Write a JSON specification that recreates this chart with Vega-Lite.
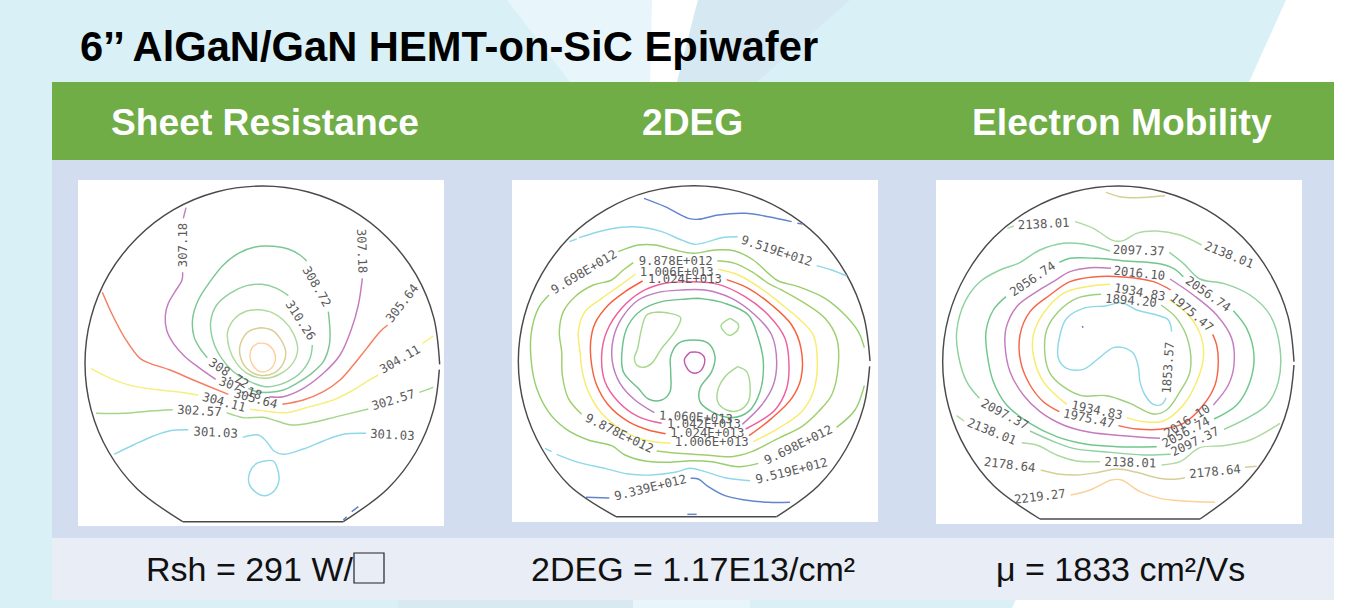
{"$schema":"https://vega.github.io/schema/vega-lite/v6.json","width":1360,"height":608,"padding":0,"autosize":{"type":"fit","contains":"padding"},"background":"#d9f0f7","config":{"view":{"stroke":null}},
"resolve":{"scale":{"x":"independent","y":"independent","color":"independent"}},
"datasets":{
"shapes":[{"k":"light","y":0,"x":507,"x2":652},{"k":"light","y":82,"x":570,"x2":650},{"k":"white","y":0,"x":652,"x2":698},{"k":"white","y":82,"x":650,"x2":677},{"k":"dark","y":0,"x":698,"x2":850},{"k":"dark","y":82,"x":677,"x2":757},{"k":"corner","y":0,"x":1286,"x2":1360},{"k":"corner","y":608,"x":1012,"x2":1360},{"k":"dark2","y":600,"x":398,"x2":633},{"k":"dark2","y":608,"x":398,"x2":633},{"k":"light2","y":600,"x":633,"x2":750},{"k":"light2","y":608,"x":633,"x2":750}],
"blocks":[{"k":"header","x":52,"x2":1334,"y":82,"y2":160},{"k":"body","x":52,"x2":1334,"y":160,"y2":538},{"k":"foot","x":52,"x2":1334,"y":538,"y2":600},{"k":"plot","x":78,"x2":444,"y":180,"y2":526},{"k":"plot","x":512,"x2":878,"y":180,"y2":522},{"k":"plot","x":936,"x2":1302,"y":180,"y2":524}],
"lines1":[
{"s":"w1","l":"wafer","x":1108,"y":584},{"s":"w1","l":"wafer","x":1091,"y":703},{"s":"w1","l":"wafer","x":1038,"y":831},{"s":"w1","l":"wafer","x":953,"y":941},{"s":"w1","l":"wafer","x":820,"y":1040},
{"s":"w2","l":"wafer","x":820,"y":1040},{"s":"w2","l":"wafer","x":338,"y":1040},
{"s":"w3","l":"wafer","x":338,"y":1040},{"s":"w3","l":"wafer","x":201,"y":941},{"s":"w3","l":"wafer","x":116,"y":831},{"s":"w3","l":"wafer","x":63,"y":703},{"s":"w3","l":"wafer","x":45,"y":565},{"s":"w3","l":"wafer","x":63,"y":427},{"s":"w3","l":"wafer","x":116,"y":299},{"s":"w3","l":"wafer","x":201,"y":189},{"s":"w3","l":"wafer","x":311,"y":104},{"s":"w3","l":"wafer","x":439,"y":51},{"s":"w3","l":"wafer","x":577,"y":33},{"s":"w3","l":"wafer","x":715,"y":51},{"s":"w3","l":"wafer","x":843,"y":104},{"s":"w3","l":"wafer","x":953,"y":189},{"s":"w3","l":"wafer","x":1038,"y":299},{"s":"w3","l":"wafer","x":1091,"y":427},{"s":"w3","l":"wafer","x":1109,"y":568},
{"s":"a1","l":"307.18","x":348,"y":98},{"s":"a1","l":"307.18","x":340,"y":130},
{"s":"a2","l":"307.18","x":338,"y":292},{"s":"a2","l":"307.18","x":336,"y":315},{"s":"a2","l":"307.18","x":315,"y":350},{"s":"a2","l":"307.18","x":295,"y":385},{"s":"a2","l":"307.18","x":286,"y":420},{"s":"a2","l":"307.18","x":290,"y":465},{"s":"a2","l":"307.18","x":310,"y":505},{"s":"a2","l":"307.18","x":345,"y":545},{"s":"a2","l":"307.18","x":390,"y":580},{"s":"a2","l":"307.18","x":437,"y":613},
{"s":"a3","l":"307.18","x":598,"y":665},{"s":"a3","l":"307.18","x":640,"y":665},{"s":"a3","l":"307.18","x":700,"y":640},{"s":"a3","l":"307.18","x":760,"y":595},{"s":"a3","l":"307.18","x":810,"y":540},{"s":"a3","l":"307.18","x":845,"y":460},{"s":"a3","l":"307.18","x":865,"y":390},{"s":"a3","l":"307.18","x":877,"y":310},
{"s":"b1","l":"308.72","x":710,"y":258},{"s":"b1","l":"308.72","x":690,"y":240},{"s":"b1","l":"308.72","x":655,"y":222},{"s":"b1","l":"308.72","x":610,"y":214},{"s":"b1","l":"308.72","x":555,"y":216},{"s":"b1","l":"308.72","x":505,"y":235},{"s":"b1","l":"308.72","x":460,"y":270},{"s":"b1","l":"308.72","x":420,"y":320},{"s":"b1","l":"308.72","x":385,"y":375},{"s":"b1","l":"308.72","x":368,"y":430},{"s":"b1","l":"308.72","x":372,"y":485},{"s":"b1","l":"308.72","x":390,"y":520},{"s":"b1","l":"308.72","x":412,"y":548},
{"s":"b2","l":"308.72","x":775,"y":410},{"s":"b2","l":"308.72","x":780,"y":470},{"s":"b2","l":"308.72","x":778,"y":510},{"s":"b2","l":"308.72","x":760,"y":560},{"s":"b2","l":"308.72","x":725,"y":595},{"s":"b2","l":"308.72","x":680,"y":625},{"s":"b2","l":"308.72","x":640,"y":645},{"s":"b2","l":"308.72","x":600,"y":652},{"s":"b2","l":"308.72","x":560,"y":650},{"s":"b2","l":"308.72","x":535,"y":640},
{"s":"c1","l":"310.26","x":655,"y":362},{"s":"c1","l":"310.26","x":620,"y":340},{"s":"c1","l":"310.26","x":575,"y":328},{"s":"c1","l":"310.26","x":530,"y":332},{"s":"c1","l":"310.26","x":480,"y":355},{"s":"c1","l":"310.26","x":440,"y":390},{"s":"c1","l":"310.26","x":422,"y":440},{"s":"c1","l":"310.26","x":430,"y":500},{"s":"c1","l":"310.26","x":455,"y":550},{"s":"c1","l":"310.26","x":490,"y":590},{"s":"c1","l":"310.26","x":530,"y":615},{"s":"c1","l":"310.26","x":585,"y":635},{"s":"c1","l":"310.26","x":640,"y":625},{"s":"c1","l":"310.26","x":690,"y":595},{"s":"c1","l":"310.26","x":720,"y":550},{"s":"c1","l":"310.26","x":727,"y":510},
{"s":"d1","l":"311.80","x":570,"y":404},{"s":"d1","l":"311.80","x":530,"y":408},{"s":"d1","l":"311.80","x":495,"y":430},{"s":"d1","l":"311.80","x":473,"y":470},{"s":"d1","l":"311.80","x":478,"y":520},{"s":"d1","l":"311.80","x":500,"y":565},{"s":"d1","l":"311.80","x":535,"y":597},{"s":"d1","l":"311.80","x":585,"y":610},{"s":"d1","l":"311.80","x":630,"y":597},{"s":"d1","l":"311.80","x":668,"y":565},{"s":"d1","l":"311.80","x":683,"y":525},{"s":"d1","l":"311.80","x":670,"y":475},{"s":"d1","l":"311.80","x":640,"y":435},{"s":"d1","l":"311.80","x":605,"y":412},{"s":"d1","l":"311.80","x":570,"y":404},
{"s":"e1","l":"313.33","x":570,"y":458},{"s":"e1","l":"313.33","x":535,"y":470},{"s":"e1","l":"313.33","x":512,"y":505},{"s":"e1","l":"313.33","x":510,"y":540},{"s":"e1","l":"313.33","x":530,"y":580},{"s":"e1","l":"313.33","x":565,"y":600},{"s":"e1","l":"313.33","x":610,"y":595},{"s":"e1","l":"313.33","x":640,"y":565},{"s":"e1","l":"313.33","x":647,"y":530},{"s":"e1","l":"313.33","x":630,"y":490},{"s":"e1","l":"313.33","x":605,"y":465},{"s":"e1","l":"313.33","x":570,"y":458},
{"s":"f1","l":"314.87","x":563,"y":505},{"s":"f1","l":"314.87","x":590,"y":507},{"s":"f1","l":"314.87","x":612,"y":530},{"s":"f1","l":"314.87","x":615,"y":560},{"s":"f1","l":"314.87","x":597,"y":585},{"s":"f1","l":"314.87","x":570,"y":590},{"s":"f1","l":"314.87","x":548,"y":570},{"s":"f1","l":"314.87","x":540,"y":545},{"s":"f1","l":"314.87","x":545,"y":520},{"s":"f1","l":"314.87","x":563,"y":505},
{"s":"g1","l":"305.64","x":97,"y":352},{"s":"g1","l":"305.64","x":125,"y":415},{"s":"g1","l":"305.64","x":165,"y":490},{"s":"g1","l":"305.64","x":210,"y":550},{"s":"g1","l":"305.64","x":240,"y":565},{"s":"g1","l":"305.64","x":300,"y":585},{"s":"g1","l":"305.64","x":370,"y":615},{"s":"g1","l":"305.64","x":475,"y":658},
{"s":"g2","l":"305.64","x":637,"y":688},{"s":"g2","l":"305.64","x":700,"y":675},{"s":"g2","l":"305.64","x":760,"y":650},{"s":"g2","l":"305.64","x":810,"y":615},{"s":"g2","l":"305.64","x":850,"y":570},{"s":"g2","l":"305.64","x":890,"y":520},{"s":"g2","l":"305.64","x":930,"y":470},{"s":"g2","l":"305.64","x":953,"y":450},
{"s":"h1","l":"304.11","x":63,"y":580},{"s":"h1","l":"304.11","x":110,"y":605},{"s":"h1","l":"304.11","x":170,"y":628},{"s":"h1","l":"304.11","x":250,"y":643},{"s":"h1","l":"304.11","x":320,"y":650},{"s":"h1","l":"304.11","x":385,"y":660},
{"s":"h2","l":"304.11","x":540,"y":703},{"s":"h2","l":"304.11","x":600,"y":710},{"s":"h2","l":"304.11","x":650,"y":713},{"s":"h2","l":"304.11","x":720,"y":695},{"s":"h2","l":"304.11","x":790,"y":675},{"s":"h2","l":"304.11","x":850,"y":645},{"s":"h2","l":"304.11","x":890,"y":620},{"s":"h2","l":"304.11","x":925,"y":600},
{"s":"h3","l":"304.11","x":1057,"y":505},{"s":"h3","l":"304.11","x":1090,"y":483},
{"s":"i1","l":"302.57","x":78,"y":715},{"s":"i1","l":"302.57","x":160,"y":715},{"s":"i1","l":"302.57","x":240,"y":708},{"s":"i1","l":"302.57","x":308,"y":704},
{"s":"i2","l":"302.57","x":470,"y":713},{"s":"i2","l":"302.57","x":520,"y":728},{"s":"i2","l":"302.57","x":580,"y":727},{"s":"i2","l":"302.57","x":620,"y":738},{"s":"i2","l":"302.57","x":665,"y":750},{"s":"i2","l":"302.57","x":730,"y":742},{"s":"i2","l":"302.57","x":800,"y":725},{"s":"i2","l":"302.57","x":895,"y":702},
{"s":"i3","l":"302.57","x":1048,"y":652},{"s":"i3","l":"302.57","x":1090,"y":637},
{"s":"j1","l":"301.03","x":132,"y":838},{"s":"j1","l":"301.03","x":190,"y":810},{"s":"j1","l":"301.03","x":250,"y":783},{"s":"j1","l":"301.03","x":300,"y":767},{"s":"j1","l":"301.03","x":355,"y":764},
{"s":"j2","l":"301.03","x":518,"y":787},{"s":"j2","l":"301.03","x":565,"y":780},{"s":"j2","l":"301.03","x":590,"y":800},{"s":"j2","l":"301.03","x":612,"y":828},{"s":"j2","l":"301.03","x":640,"y":838},{"s":"j2","l":"301.03","x":700,"y":822},{"s":"j2","l":"301.03","x":760,"y":798},{"s":"j2","l":"301.03","x":820,"y":778},{"s":"j2","l":"301.03","x":888,"y":775},
{"s":"j3","l":"301.03","x":590,"y":857},{"s":"j3","l":"301.03","x":560,"y":865},{"s":"j3","l":"301.03","x":540,"y":890},{"s":"j3","l":"301.03","x":537,"y":925},{"s":"j3","l":"301.03","x":555,"y":950},{"s":"j3","l":"301.03","x":585,"y":962},{"s":"j3","l":"301.03","x":615,"y":945},{"s":"j3","l":"301.03","x":627,"y":915},{"s":"j3","l":"301.03","x":622,"y":880},{"s":"j3","l":"301.03","x":610,"y":858},{"s":"j3","l":"301.03","x":590,"y":857},
{"s":"k1","l":"299.49","x":845,"y":1010},{"s":"k1","l":"299.49","x":865,"y":995},
{"s":"k2","l":"299.49","x":820,"y":1035},{"s":"k2","l":"299.49","x":830,"y":1025}
],
"labels1":[
{"t":"307.18","x":338,"y":210,"a":-90},{"t":"307.18","x":875,"y":228,"a":88},{"t":"307.18","x":511,"y":640,"a":20},
{"t":"308.72","x":740,"y":335,"a":60},{"t":"308.72","x":476,"y":595,"a":33},{"t":"310.26","x":691,"y":436,"a":57},
{"t":"305.64","x":997,"y":385,"a":-52},{"t":"305.64","x":557,"y":672,"a":15},{"t":"304.11","x":462,"y":682,"a":15},{"t":"304.11","x":990,"y":553,"a":-30},
{"t":"302.57","x":388,"y":708,"a":3},{"t":"302.57","x":970,"y":675,"a":-17},{"t":"301.03","x":437,"y":773,"a":3},{"t":"301.03","x":967,"y":780,"a":3}
],
"lines2":[
{"s":"w1","l":"wafer","x":1094,"y":574},{"s":"w1","l":"wafer","x":1076,"y":695},{"s":"w1","l":"wafer","x":1023,"y":822},{"s":"w1","l":"wafer","x":940,"y":932},{"s":"w1","l":"wafer","x":815,"y":1025},
{"s":"w2","l":"wafer","x":815,"y":1025},{"s":"w2","l":"wafer","x":333,"y":1025},
{"s":"w3","l":"wafer","x":333,"y":1025},{"s":"w3","l":"wafer","x":194,"y":932},{"s":"w3","l":"wafer","x":111,"y":822},{"s":"w3","l":"wafer","x":58,"y":695},{"s":"w3","l":"wafer","x":40,"y":559},{"s":"w3","l":"wafer","x":58,"y":423},{"s":"w3","l":"wafer","x":111,"y":296},{"s":"w3","l":"wafer","x":194,"y":186},{"s":"w3","l":"wafer","x":304,"y":103},{"s":"w3","l":"wafer","x":431,"y":50},{"s":"w3","l":"wafer","x":567,"y":32},{"s":"w3","l":"wafer","x":703,"y":50},{"s":"w3","l":"wafer","x":830,"y":103},{"s":"w3","l":"wafer","x":940,"y":186},{"s":"w3","l":"wafer","x":1023,"y":296},{"s":"w3","l":"wafer","x":1076,"y":423},{"s":"w3","l":"wafer","x":1095,"y":558},
{"s":"a1","l":"9.339","x":417,"y":70},{"s":"a1","l":"9.339","x":480,"y":95},{"s":"a1","l":"9.339","x":550,"y":130},{"s":"a1","l":"9.339","x":580,"y":133},{"s":"a1","l":"9.339","x":640,"y":120},{"s":"a1","l":"9.339","x":720,"y":115},{"s":"a1","l":"9.339","x":790,"y":125},{"s":"a1","l":"9.339","x":860,"y":140},
{"s":"a2","l":"9.339","x":877,"y":145},{"s":"a2","l":"9.339","x":893,"y":147},
{"s":"a3","l":"9.339","x":243,"y":967},{"s":"a3","l":"9.339","x":313,"y":969},
{"s":"a4","l":"9.339","x":557,"y":910},{"s":"a4","l":"9.339","x":580,"y":912},{"s":"a4","l":"9.339","x":610,"y":935},{"s":"a4","l":"9.339","x":660,"y":962},{"s":"a4","l":"9.339","x":720,"y":975},{"s":"a4","l":"9.339","x":790,"y":982},{"s":"a4","l":"9.339","x":855,"y":982},
{"s":"a5","l":"9.339","x":547,"y":1018},{"s":"a5","l":"9.339","x":575,"y":1018},
{"s":"b1","l":"9.519","x":193,"y":200},{"s":"b1","l":"9.519","x":215,"y":192},
{"s":"b2","l":"9.519","x":222,"y":188},{"s":"b2","l":"9.519","x":290,"y":168},{"s":"b2","l":"9.519","x":350,"y":157},{"s":"b2","l":"9.519","x":410,"y":157},{"s":"b2","l":"9.519","x":470,"y":170},{"s":"b2","l":"9.519","x":530,"y":195},{"s":"b2","l":"9.519","x":570,"y":208},{"s":"b2","l":"9.519","x":610,"y":200},{"s":"b2","l":"9.519","x":650,"y":188},{"s":"b2","l":"9.519","x":698,"y":185},
{"s":"b3","l":"9.519","x":935,"y":272},{"s":"b3","l":"9.519","x":980,"y":285},{"s":"b3","l":"9.519","x":1025,"y":303},
{"s":"b4","l":"9.519","x":120,"y":820},{"s":"b4","l":"9.519","x":140,"y":830},
{"s":"b5","l":"9.519","x":155,"y":838},{"s":"b5","l":"9.519","x":220,"y":862},{"s":"b5","l":"9.519","x":300,"y":880},{"s":"b5","l":"9.519","x":370,"y":897},{"s":"b5","l":"9.519","x":440,"y":900},{"s":"b5","l":"9.519","x":510,"y":892},{"s":"b5","l":"9.519","x":555,"y":880},{"s":"b5","l":"9.519","x":600,"y":890},{"s":"b5","l":"9.519","x":660,"y":908},{"s":"b5","l":"9.519","x":735,"y":917},
{"s":"c1","l":"9.698","x":132,"y":360},{"s":"c1","l":"9.698","x":100,"y":400},{"s":"c1","l":"9.698","x":78,"y":480},{"s":"c1","l":"9.698","x":80,"y":570},{"s":"c1","l":"9.698","x":95,"y":640},{"s":"c1","l":"9.698","x":130,"y":710},{"s":"c1","l":"9.698","x":180,"y":760},{"s":"c1","l":"9.698","x":250,"y":795},{"s":"c1","l":"9.698","x":320,"y":812},{"s":"c1","l":"9.698","x":360,"y":840},{"s":"c1","l":"9.698","x":420,"y":858},{"s":"c1","l":"9.698","x":490,"y":862},{"s":"c1","l":"9.698","x":560,"y":857},{"s":"c1","l":"9.698","x":620,"y":860},{"s":"c1","l":"9.698","x":700,"y":875},{"s":"c1","l":"9.698","x":760,"y":865},
{"s":"c2","l":"9.698","x":995,"y":757},{"s":"c2","l":"9.698","x":1050,"y":705},{"s":"c2","l":"9.698","x":1078,"y":632},
{"s":"c3","l":"9.698","x":340,"y":230},{"s":"c3","l":"9.698","x":400,"y":210},{"s":"c3","l":"9.698","x":450,"y":210},{"s":"c3","l":"9.698","x":510,"y":225},{"s":"c3","l":"9.698","x":565,"y":235},{"s":"c3","l":"9.698","x":630,"y":225},{"s":"c3","l":"9.698","x":690,"y":228},{"s":"c3","l":"9.698","x":745,"y":255},{"s":"c3","l":"9.698","x":790,"y":295},{"s":"c3","l":"9.698","x":820,"y":318},{"s":"c3","l":"9.698","x":880,"y":335},{"s":"c3","l":"9.698","x":960,"y":370},{"s":"c3","l":"9.698","x":1020,"y":420},{"s":"c3","l":"9.698","x":1060,"y":470},{"s":"c3","l":"9.698","x":1078,"y":518},
{"s":"d1","l":"9.878","x":385,"y":263},{"s":"d1","l":"9.878","x":355,"y":285},{"s":"d1","l":"9.878","x":320,"y":315},{"s":"d1","l":"9.878","x":265,"y":330},{"s":"d1","l":"9.878","x":210,"y":365},{"s":"d1","l":"9.878","x":175,"y":410},{"s":"d1","l":"9.878","x":163,"y":470},{"s":"d1","l":"9.878","x":170,"y":530},{"s":"d1","l":"9.878","x":172,"y":600},{"s":"d1","l":"9.878","x":190,"y":670},{"s":"d1","l":"9.878","x":230,"y":718},
{"s":"d2","l":"9.878","x":637,"y":257},{"s":"d2","l":"9.878","x":690,"y":265},{"s":"d2","l":"9.878","x":740,"y":290},{"s":"d2","l":"9.878","x":790,"y":325},{"s":"d2","l":"9.878","x":830,"y":345},{"s":"d2","l":"9.878","x":900,"y":385},{"s":"d2","l":"9.878","x":960,"y":430},{"s":"d2","l":"9.878","x":995,"y":490},{"s":"d2","l":"9.878","x":1000,"y":570},{"s":"d2","l":"9.878","x":980,"y":660},{"s":"d2","l":"9.878","x":940,"y":710},{"s":"d2","l":"9.878","x":890,"y":755},{"s":"d2","l":"9.878","x":820,"y":790},{"s":"d2","l":"9.878","x":740,"y":830},{"s":"d2","l":"9.878","x":680,"y":845},{"s":"d2","l":"9.878","x":600,"y":840},{"s":"d2","l":"9.878","x":520,"y":835},{"s":"d2","l":"9.878","x":455,"y":828},
{"s":"e1","l":"1.006","x":392,"y":297},{"s":"e1","l":"1.006","x":340,"y":335},{"s":"e1","l":"1.006","x":290,"y":370},{"s":"e1","l":"1.006","x":240,"y":410},{"s":"e1","l":"1.006","x":220,"y":470},{"s":"e1","l":"1.006","x":225,"y":530},{"s":"e1","l":"1.006","x":232,"y":590},{"s":"e1","l":"1.006","x":250,"y":650},{"s":"e1","l":"1.006","x":290,"y":715},{"s":"e1","l":"1.006","x":350,"y":765},{"s":"e1","l":"1.006","x":420,"y":795},{"s":"e1","l":"1.006","x":497,"y":805},
{"s":"e2","l":"1.006","x":640,"y":283},{"s":"e2","l":"1.006","x":700,"y":300},{"s":"e2","l":"1.006","x":760,"y":335},{"s":"e2","l":"1.006","x":820,"y":380},{"s":"e2","l":"1.006","x":880,"y":430},{"s":"e2","l":"1.006","x":925,"y":480},{"s":"e2","l":"1.006","x":937,"y":570},{"s":"e2","l":"1.006","x":925,"y":650},{"s":"e2","l":"1.006","x":890,"y":710},{"s":"e2","l":"1.006","x":820,"y":760},{"s":"e2","l":"1.006","x":745,"y":800},
{"s":"f1","l":"1.024","x":413,"y":318},{"s":"f1","l":"1.024","x":360,"y":350},{"s":"f1","l":"1.024","x":310,"y":390},{"s":"f1","l":"1.024","x":270,"y":445},{"s":"f1","l":"1.024","x":257,"y":500},{"s":"f1","l":"1.024","x":260,"y":570},{"s":"f1","l":"1.024","x":275,"y":630},{"s":"f1","l":"1.024","x":310,"y":690},{"s":"f1","l":"1.024","x":370,"y":740},{"s":"f1","l":"1.024","x":430,"y":765},{"s":"f1","l":"1.024","x":482,"y":776},
{"s":"f2","l":"1.024","x":665,"y":314},{"s":"f2","l":"1.024","x":730,"y":340},{"s":"f2","l":"1.024","x":800,"y":390},{"s":"f2","l":"1.024","x":860,"y":450},{"s":"f2","l":"1.024","x":888,"y":520},{"s":"f2","l":"1.024","x":888,"y":610},{"s":"f2","l":"1.024","x":860,"y":670},{"s":"f2","l":"1.024","x":800,"y":730},{"s":"f2","l":"1.024","x":732,"y":782},
{"s":"g1","l":"1.042","x":470,"y":745},{"s":"g1","l":"1.042","x":400,"y":725},{"s":"g1","l":"1.042","x":340,"y":680},{"s":"g1","l":"1.042","x":300,"y":620},{"s":"g1","l":"1.042","x":290,"y":540},{"s":"g1","l":"1.042","x":305,"y":470},{"s":"g1","l":"1.042","x":350,"y":400},{"s":"g1","l":"1.042","x":410,"y":350},{"s":"g1","l":"1.042","x":480,"y":325},{"s":"g1","l":"1.042","x":560,"y":320},{"s":"g1","l":"1.042","x":640,"y":328},{"s":"g1","l":"1.042","x":720,"y":365},{"s":"g1","l":"1.042","x":790,"y":420},{"s":"g1","l":"1.042","x":840,"y":490},{"s":"g1","l":"1.042","x":852,"y":570},{"s":"g1","l":"1.042","x":845,"y":640},{"s":"g1","l":"1.042","x":810,"y":705},{"s":"g1","l":"1.042","x":722,"y":762},
{"s":"h1","l":"1.060","x":448,"y":713},{"s":"h1","l":"1.060","x":390,"y":675},{"s":"h1","l":"1.060","x":345,"y":625},{"s":"h1","l":"1.060","x":322,"y":560},{"s":"h1","l":"1.060","x":325,"y":490},{"s":"h1","l":"1.060","x":350,"y":430},{"s":"h1","l":"1.060","x":400,"y":375},{"s":"h1","l":"1.060","x":460,"y":352},{"s":"h1","l":"1.060","x":530,"y":345},{"s":"h1","l":"1.060","x":600,"y":345},{"s":"h1","l":"1.060","x":680,"y":370},{"s":"h1","l":"1.060","x":750,"y":420},{"s":"h1","l":"1.060","x":800,"y":480},{"s":"h1","l":"1.060","x":815,"y":560},{"s":"h1","l":"1.060","x":805,"y":630},{"s":"h1","l":"1.060","x":770,"y":690},{"s":"h1","l":"1.060","x":712,"y":748},
{"s":"i1","l":"1.078","x":580,"y":370},{"s":"i1","l":"1.078","x":545,"y":372},{"s":"i1","l":"1.078","x":470,"y":380},{"s":"i1","l":"1.078","x":410,"y":405},{"s":"i1","l":"1.078","x":370,"y":450},{"s":"i1","l":"1.078","x":353,"y":510},{"s":"i1","l":"1.078","x":355,"y":590},{"s":"i1","l":"1.078","x":400,"y":640},{"s":"i1","l":"1.078","x":430,"y":672},{"s":"i1","l":"1.078","x":470,"y":675},{"s":"i1","l":"1.078","x":495,"y":650},{"s":"i1","l":"1.078","x":497,"y":590},{"s":"i1","l":"1.078","x":497,"y":545},{"s":"i1","l":"1.078","x":520,"y":505},{"s":"i1","l":"1.078","x":565,"y":495},{"s":"i1","l":"1.078","x":610,"y":505},{"s":"i1","l":"1.078","x":630,"y":545},{"s":"i1","l":"1.078","x":620,"y":590},{"s":"i1","l":"1.078","x":585,"y":640},{"s":"i1","l":"1.078","x":585,"y":680},{"s":"i1","l":"1.078","x":620,"y":710},{"s":"i1","l":"1.078","x":680,"y":728},{"s":"i1","l":"1.078","x":730,"y":710},{"s":"i1","l":"1.078","x":765,"y":650},{"s":"i1","l":"1.078","x":775,"y":560},{"s":"i1","l":"1.078","x":760,"y":490},{"s":"i1","l":"1.078","x":730,"y":420},{"s":"i1","l":"1.078","x":660,"y":385},{"s":"i1","l":"1.078","x":580,"y":370},
{"s":"j1","l":"1.096","x":460,"y":411},{"s":"j1","l":"1.096","x":425,"y":420},{"s":"j1","l":"1.096","x":410,"y":460},{"s":"j1","l":"1.096","x":398,"y":520},{"s":"j1","l":"1.096","x":388,"y":550},{"s":"j1","l":"1.096","x":395,"y":570},{"s":"j1","l":"1.096","x":415,"y":577},{"s":"j1","l":"1.096","x":440,"y":565},{"s":"j1","l":"1.096","x":470,"y":520},{"s":"j1","l":"1.096","x":510,"y":470},{"s":"j1","l":"1.096","x":527,"y":428},{"s":"j1","l":"1.096","x":495,"y":415},{"s":"j1","l":"1.096","x":460,"y":411},
{"s":"j2","l":"1.096","x":675,"y":430},{"s":"j2","l":"1.096","x":648,"y":452},{"s":"j2","l":"1.096","x":672,"y":481},{"s":"j2","l":"1.096","x":698,"y":465},{"s":"j2","l":"1.096","x":700,"y":448},{"s":"j2","l":"1.096","x":675,"y":430},
{"s":"j3","l":"1.096","x":698,"y":575},{"s":"j3","l":"1.096","x":660,"y":605},{"s":"j3","l":"1.096","x":640,"y":640},{"s":"j3","l":"1.096","x":638,"y":680},{"s":"j3","l":"1.096","x":665,"y":705},{"s":"j3","l":"1.096","x":700,"y":707},{"s":"j3","l":"1.096","x":730,"y":680},{"s":"j3","l":"1.096","x":735,"y":630},{"s":"j3","l":"1.096","x":725,"y":590},{"s":"j3","l":"1.096","x":698,"y":575},
{"s":"k1","l":"1.114","x":555,"y":532},{"s":"k1","l":"1.114","x":538,"y":555},{"s":"k1","l":"1.114","x":555,"y":590},{"s":"k1","l":"1.114","x":580,"y":592},{"s":"k1","l":"1.114","x":597,"y":570},{"s":"k1","l":"1.114","x":597,"y":545},{"s":"k1","l":"1.114","x":580,"y":532},{"s":"k1","l":"1.114","x":555,"y":532}
],
"labels2":[
{"t":"9.339E+012","x":436,"y":938,"a":-14},{"t":"9.519E+012","x":815,"y":228,"a":18},{"t":"9.519E+012","x":860,"y":888,"a":-14},
{"t":"9.698E+012","x":237,"y":291,"a":-31},{"t":"9.698E+012","x":880,"y":810,"a":-26},
{"t":"9.878E+012","x":512,"y":258,"a":0},{"t":"9.878E+012","x":343,"y":775,"a":26},
{"t":"1.006E+013","x":515,"y":292,"a":0},{"t":"1.006E+013","x":620,"y":802,"a":0},
{"t":"1.024E+013","x":540,"y":313,"a":0},{"t":"1.024E+013","x":607,"y":775,"a":0},
{"t":"1.042E+013","x":597,"y":748,"a":0},{"t":"1.060E+013","x":573,"y":727,"a":3}
],
"lines3":[
{"s":"w1","l":"wafer","x":1092,"y":570},{"s":"w1","l":"wafer","x":1074,"y":696},{"s":"w1","l":"wafer","x":1021,"y":824},{"s":"w1","l":"wafer","x":938,"y":933},{"s":"w1","l":"wafer","x":810,"y":1032},
{"s":"w2","l":"wafer","x":810,"y":1032},{"s":"w2","l":"wafer","x":330,"y":1032},
{"s":"w3","l":"wafer","x":330,"y":1032},{"s":"w3","l":"wafer","x":192,"y":933},{"s":"w3","l":"wafer","x":109,"y":824},{"s":"w3","l":"wafer","x":56,"y":696},{"s":"w3","l":"wafer","x":38,"y":560},{"s":"w3","l":"wafer","x":56,"y":424},{"s":"w3","l":"wafer","x":109,"y":297},{"s":"w3","l":"wafer","x":192,"y":187},{"s":"w3","l":"wafer","x":301,"y":104},{"s":"w3","l":"wafer","x":429,"y":51},{"s":"w3","l":"wafer","x":565,"y":33},{"s":"w3","l":"wafer","x":701,"y":51},{"s":"w3","l":"wafer","x":829,"y":104},{"s":"w3","l":"wafer","x":938,"y":187},{"s":"w3","l":"wafer","x":1021,"y":297},{"s":"w3","l":"wafer","x":1074,"y":424},{"s":"w3","l":"wafer","x":1092,"y":560},
{"s":"a1","l":"2178.64","x":528,"y":52},{"s":"a1","l":"2178.64","x":570,"y":65},{"s":"a1","l":"2178.64","x":620,"y":68},{"s":"a1","l":"2178.64","x":705,"y":62},
{"s":"a2","l":"2178.64","x":332,"y":885},{"s":"a2","l":"2178.64","x":390,"y":898},{"s":"a2","l":"2178.64","x":440,"y":900},{"s":"a2","l":"2178.64","x":500,"y":893},{"s":"a2","l":"2178.64","x":560,"y":882},{"s":"a2","l":"2178.64","x":620,"y":892},{"s":"a2","l":"2178.64","x":680,"y":908},{"s":"a2","l":"2178.64","x":725,"y":913},{"s":"a2","l":"2178.64","x":765,"y":908},
{"s":"a3","l":"2178.64","x":945,"y":877},{"s":"a3","l":"2178.64","x":980,"y":874},
{"s":"b1","l":"2138.01","x":232,"y":160},{"s":"b1","l":"2138.01","x":252,"y":153},
{"s":"b2","l":"2138.01","x":435,"y":140},{"s":"b2","l":"2138.01","x":490,"y":160},{"s":"b2","l":"2138.01","x":550,"y":197},{"s":"b2","l":"2138.01","x":580,"y":197},{"s":"b2","l":"2138.01","x":620,"y":175},{"s":"b2","l":"2138.01","x":680,"y":168},{"s":"b2","l":"2138.01","x":750,"y":180},{"s":"b2","l":"2138.01","x":815,"y":210},
{"s":"b3","l":"2138.01","x":80,"y":722},{"s":"b3","l":"2138.01","x":102,"y":738},
{"s":"b4","l":"2138.01","x":275,"y":803},{"s":"b4","l":"2138.01","x":320,"y":810},{"s":"b4","l":"2138.01","x":380,"y":840},{"s":"b4","l":"2138.01","x":440,"y":858},{"s":"b4","l":"2138.01","x":510,"y":860},
{"s":"b5","l":"2138.01","x":695,"y":870},{"s":"b5","l":"2138.01","x":750,"y":860},{"s":"b5","l":"2138.01","x":810,"y":818},{"s":"b5","l":"2138.01","x":880,"y":812},{"s":"b5","l":"2138.01","x":960,"y":795},{"s":"b5","l":"2138.01","x":1050,"y":745},
{"s":"c1","l":"2097.37","x":148,"y":670},{"s":"c1","l":"2097.37","x":110,"y":620},{"s":"c1","l":"2097.37","x":85,"y":540},{"s":"c1","l":"2097.37","x":80,"y":470},{"s":"c1","l":"2097.37","x":105,"y":380},{"s":"c1","l":"2097.37","x":150,"y":320},{"s":"c1","l":"2097.37","x":210,"y":285},{"s":"c1","l":"2097.37","x":265,"y":265},{"s":"c1","l":"2097.37","x":330,"y":225},{"s":"c1","l":"2097.37","x":400,"y":205},{"s":"c1","l":"2097.37","x":460,"y":207},{"s":"c1","l":"2097.37","x":540,"y":228},
{"s":"c2","l":"2097.37","x":718,"y":232},{"s":"c2","l":"2097.37","x":760,"y":265},{"s":"c2","l":"2097.37","x":810,"y":312},{"s":"c2","l":"2097.37","x":880,"y":325},{"s":"c2","l":"2097.37","x":960,"y":360},{"s":"c2","l":"2097.37","x":1020,"y":420},{"s":"c2","l":"2097.37","x":1050,"y":520},{"s":"c2","l":"2097.37","x":1045,"y":620},{"s":"c2","l":"2097.37","x":1010,"y":690},{"s":"c2","l":"2097.37","x":950,"y":730},{"s":"c2","l":"2097.37","x":882,"y":763},
{"s":"c3","l":"2097.37","x":300,"y":768},{"s":"c3","l":"2097.37","x":360,"y":795},{"s":"c3","l":"2097.37","x":430,"y":820},{"s":"c3","l":"2097.37","x":520,"y":830},{"s":"c3","l":"2097.37","x":640,"y":840},{"s":"c3","l":"2097.37","x":722,"y":838},
{"s":"d1","l":"2056.74","x":228,"y":365},{"s":"d1","l":"2056.74","x":190,"y":405},{"s":"d1","l":"2056.74","x":168,"y":470},{"s":"d1","l":"2056.74","x":172,"y":540},{"s":"d1","l":"2056.74","x":190,"y":620},{"s":"d1","l":"2056.74","x":230,"y":690},{"s":"d1","l":"2056.74","x":300,"y":745},{"s":"d1","l":"2056.74","x":380,"y":785},{"s":"d1","l":"2056.74","x":470,"y":808},{"s":"d1","l":"2056.74","x":560,"y":815},{"s":"d1","l":"2056.74","x":680,"y":815},
{"s":"d2","l":"2056.74","x":388,"y":262},{"s":"d2","l":"2056.74","x":420,"y":250},{"s":"d2","l":"2056.74","x":500,"y":250},{"s":"d2","l":"2056.74","x":590,"y":258},{"s":"d2","l":"2056.74","x":680,"y":265},{"s":"d2","l":"2056.74","x":730,"y":280},{"s":"d2","l":"2056.74","x":760,"y":305},
{"s":"d3","l":"2056.74","x":910,"y":407},{"s":"d3","l":"2056.74","x":950,"y":460},{"s":"d3","l":"2056.74","x":972,"y":540},{"s":"d3","l":"2056.74","x":960,"y":620},{"s":"d3","l":"2056.74","x":920,"y":690},{"s":"d3","l":"2056.74","x":852,"y":732},
{"s":"e1","l":"2016.10","x":543,"y":280},{"s":"e1","l":"2016.10","x":480,"y":278},{"s":"e1","l":"2016.10","x":420,"y":290},{"s":"e1","l":"2016.10","x":370,"y":320},{"s":"e1","l":"2016.10","x":320,"y":350},{"s":"e1","l":"2016.10","x":260,"y":395},{"s":"e1","l":"2016.10","x":228,"y":460},{"s":"e1","l":"2016.10","x":225,"y":510},{"s":"e1","l":"2016.10","x":240,"y":590},{"s":"e1","l":"2016.10","x":280,"y":660},{"s":"e1","l":"2016.10","x":330,"y":710},{"s":"e1","l":"2016.10","x":400,"y":750},{"s":"e1","l":"2016.10","x":480,"y":772},{"s":"e1","l":"2016.10","x":580,"y":782},{"s":"e1","l":"2016.10","x":690,"y":790},
{"s":"e2","l":"2016.10","x":720,"y":312},{"s":"e2","l":"2016.10","x":790,"y":360},{"s":"e2","l":"2016.10","x":860,"y":420},{"s":"e2","l":"2016.10","x":905,"y":490},{"s":"e2","l":"2016.10","x":912,"y":570},{"s":"e2","l":"2016.10","x":895,"y":630},{"s":"e2","l":"2016.10","x":850,"y":690},
{"s":"f1","l":"1975.47","x":722,"y":345},{"s":"f1","l":"1975.47","x":670,"y":320},{"s":"f1","l":"1975.47","x":580,"y":306},{"s":"f1","l":"1975.47","x":490,"y":306},{"s":"f1","l":"1975.47","x":420,"y":320},{"s":"f1","l":"1975.47","x":360,"y":360},{"s":"f1","l":"1975.47","x":300,"y":410},{"s":"f1","l":"1975.47","x":270,"y":480},{"s":"f1","l":"1975.47","x":272,"y":560},{"s":"f1","l":"1975.47","x":300,"y":630},{"s":"f1","l":"1975.47","x":340,"y":680},{"s":"f1","l":"1975.47","x":388,"y":710},
{"s":"f2","l":"1975.47","x":565,"y":752},{"s":"f2","l":"1975.47","x":620,"y":762},{"s":"f2","l":"1975.47","x":690,"y":763},{"s":"f2","l":"1975.47","x":760,"y":745},{"s":"f2","l":"1975.47","x":820,"y":690},{"s":"f2","l":"1975.47","x":855,"y":630},{"s":"f2","l":"1975.47","x":865,"y":560},{"s":"f2","l":"1975.47","x":860,"y":510},{"s":"f2","l":"1975.47","x":848,"y":478},
{"s":"g1","l":"1934.83","x":540,"y":328},{"s":"g1","l":"1934.83","x":470,"y":335},{"s":"g1","l":"1934.83","x":400,"y":355},{"s":"g1","l":"1934.83","x":340,"y":415},{"s":"g1","l":"1934.83","x":310,"y":480},{"s":"g1","l":"1934.83","x":310,"y":540},{"s":"g1","l":"1934.83","x":340,"y":620},{"s":"g1","l":"1934.83","x":410,"y":688},
{"s":"g2","l":"1934.83","x":590,"y":728},{"s":"g2","l":"1934.83","x":640,"y":740},{"s":"g2","l":"1934.83","x":700,"y":738},{"s":"g2","l":"1934.83","x":760,"y":690},{"s":"g2","l":"1934.83","x":800,"y":620},{"s":"g2","l":"1934.83","x":820,"y":550},{"s":"g2","l":"1934.83","x":815,"y":490},{"s":"g2","l":"1934.83","x":780,"y":425},{"s":"g2","l":"1934.83","x":718,"y":375},
{"s":"h1","l":"1894.20","x":513,"y":358},{"s":"h1","l":"1894.20","x":440,"y":370},{"s":"h1","l":"1894.20","x":385,"y":410},{"s":"h1","l":"1894.20","x":350,"y":465},{"s":"h1","l":"1894.20","x":345,"y":540},{"s":"h1","l":"1894.20","x":360,"y":595},{"s":"h1","l":"1894.20","x":400,"y":635},{"s":"h1","l":"1894.20","x":455,"y":662},{"s":"h1","l":"1894.20","x":530,"y":662},{"s":"h1","l":"1894.20","x":600,"y":685},{"s":"h1","l":"1894.20","x":670,"y":717},{"s":"h1","l":"1894.20","x":710,"y":705},{"s":"h1","l":"1894.20","x":750,"y":650},{"s":"h1","l":"1894.20","x":780,"y":590},{"s":"h1","l":"1894.20","x":775,"y":500},{"s":"h1","l":"1894.20","x":740,"y":430},{"s":"h1","l":"1894.20","x":693,"y":390},
{"s":"i1","l":"1853.57","x":725,"y":470},{"s":"i1","l":"1853.57","x":715,"y":435},{"s":"i1","l":"1853.57","x":680,"y":420},{"s":"i1","l":"1853.57","x":620,"y":405},{"s":"i1","l":"1853.57","x":575,"y":383},{"s":"i1","l":"1853.57","x":530,"y":392},{"s":"i1","l":"1853.57","x":460,"y":400},{"s":"i1","l":"1853.57","x":410,"y":430},{"s":"i1","l":"1853.57","x":390,"y":480},{"s":"i1","l":"1853.57","x":385,"y":550},{"s":"i1","l":"1853.57","x":410,"y":580},{"s":"i1","l":"1853.57","x":460,"y":583},{"s":"i1","l":"1853.57","x":500,"y":555},{"s":"i1","l":"1853.57","x":550,"y":518},{"s":"i1","l":"1853.57","x":580,"y":518},{"s":"i1","l":"1853.57","x":610,"y":535},{"s":"i1","l":"1853.57","x":625,"y":575},{"s":"i1","l":"1853.57","x":630,"y":620},{"s":"i1","l":"1853.57","x":645,"y":660},{"s":"i1","l":"1853.57","x":670,"y":688},{"s":"i1","l":"1853.57","x":695,"y":688},{"s":"i1","l":"1853.57","x":708,"y":668},
{"s":"j1","l":"1812.94","x":457,"y":453},{"s":"j1","l":"1812.94","x":459,"y":458},
{"s":"k1","l":"2219.27","x":422,"y":960},{"s":"k1","l":"2219.27","x":480,"y":945},{"s":"k1","l":"2219.27","x":545,"y":915},{"s":"k1","l":"2219.27","x":575,"y":915},{"s":"k1","l":"2219.27","x":630,"y":950},{"s":"k1","l":"2219.27","x":690,"y":970},{"s":"k1","l":"2219.27","x":760,"y":978},{"s":"k1","l":"2219.27","x":855,"y":982}
],
"labels3":[
{"t":"2138.01","x":341,"y":147,"a":-3},{"t":"2138.01","x":897,"y":240,"a":22},{"t":"2138.01","x":185,"y":770,"a":22},{"t":"2138.01","x":601,"y":863,"a":2},
{"t":"2097.37","x":626,"y":227,"a":2},{"t":"2097.37","x":224,"y":718,"a":28},{"t":"2097.37","x":795,"y":800,"a":-26},
{"t":"2056.74","x":308,"y":312,"a":-34},{"t":"2056.74","x":834,"y":357,"a":35},{"t":"2056.74","x":768,"y":772,"a":-28},
{"t":"2016.10","x":628,"y":295,"a":6},{"t":"2016.10","x":771,"y":738,"a":-32},
{"t":"1975.47","x":785,"y":413,"a":40},{"t":"1975.47","x":476,"y":731,"a":12},
{"t":"1934.83","x":629,"y":352,"a":10},{"t":"1934.83","x":501,"y":706,"a":12},
{"t":"1894.20","x":603,"y":377,"a":5},{"t":"1853.57","x":715,"y":578,"a":-86},
{"t":"2178.64","x":239,"y":870,"a":7},{"t":"2178.64","x":855,"y":890,"a":-6},{"t":"2219.27","x":330,"y":965,"a":-7}
],
"titles":[{"t":"6’’ AlGaN/GaN HEMT-on-SiC Epiwafer","x":80,"y":61}],
"heads":[{"t":"Sheet Resistance","x":111,"y":135},{"t":"2DEG","x":642,"y":135},{"t":"Electron Mobility","x":972,"y":135}],
"feet":[{"t":"Rsh = 291 W/","x":146,"y":581},{"t":"2DEG = 1.17E13/cm²","x":531,"y":581},{"t":"μ = 1833 cm²/Vs","x":996,"y":581}],
"box":[{"x":354,"x2":384,"y":553,"y2":583}]
},
"layer":[
{"data":{"name":"shapes"},"mark":{"type":"area","orient":"horizontal"},"encoding":{"y":{"field":"y","type":"quantitative","scale":{"domain":[0,608],"reverse":true,"nice":false,"zero":false},"axis":null},"x":{"field":"x","type":"quantitative","scale":{"domain":[0,1360],"nice":false,"zero":false},"axis":null},"x2":{"field":"x2"},"color":{"field":"k","type":"nominal","legend":null,"scale":{"domain":["light","white","dark","corner","dark2","light2"],"range":["#e8f6fb","#ffffff","#d6e8f1","#ffffff","#d8e9f2","#e8f6fb"]}}}},
{"data":{"name":"blocks"},"mark":{"type":"rect"},"encoding":{"x":{"field":"x","type":"quantitative","scale":{"domain":[0,1360],"nice":false,"zero":false},"axis":null},"x2":{"field":"x2"},"y":{"field":"y","type":"quantitative","scale":{"domain":[0,608],"reverse":true,"nice":false,"zero":false},"axis":null},"y2":{"field":"y2"},"color":{"field":"k","type":"nominal","legend":null,"scale":{"domain":["header","body","foot","plot"],"range":["#70ad47","#d2ddef","#e8edf6","#ffffff"]}}}},
{"data":{"name":"box"},"mark":{"type":"rect","fill":null,"stroke":"#222222","strokeWidth":1.2},"encoding":{"x":{"field":"x","type":"quantitative","scale":{"domain":[0,1360],"nice":false,"zero":false},"axis":null},"x2":{"field":"x2"},"y":{"field":"y","type":"quantitative","scale":{"domain":[0,608],"reverse":true,"nice":false,"zero":false},"axis":null},"y2":{"field":"y2"}}},
{"data":{"name":"titles"},"mark":{"type":"text","font":"Liberation Sans","fontWeight":"bold","fontSize":41.7,"align":"left","baseline":"alphabetic","color":"#000000"},"encoding":{"x":{"field":"x","type":"quantitative","scale":{"domain":[0,1360],"nice":false,"zero":false},"axis":null},"y":{"field":"y","type":"quantitative","scale":{"domain":[0,608],"reverse":true,"nice":false,"zero":false},"axis":null},"text":{"field":"t"}}},
{"data":{"name":"heads"},"mark":{"type":"text","font":"Liberation Sans","fontWeight":"bold","fontSize":37.2,"align":"left","baseline":"alphabetic","color":"#ffffff"},"encoding":{"x":{"field":"x","type":"quantitative","scale":{"domain":[0,1360],"nice":false,"zero":false},"axis":null},"y":{"field":"y","type":"quantitative","scale":{"domain":[0,608],"reverse":true,"nice":false,"zero":false},"axis":null},"text":{"field":"t"}}},
{"data":{"name":"feet"},"mark":{"type":"text","font":"Liberation Sans","fontSize":34,"align":"left","baseline":"alphabetic","color":"#111111"},"encoding":{"x":{"field":"x","type":"quantitative","scale":{"domain":[0,1360],"nice":false,"zero":false},"axis":null},"y":{"field":"y","type":"quantitative","scale":{"domain":[0,608],"reverse":true,"nice":false,"zero":false},"axis":null},"text":{"field":"t"}}},
{"data":{"name":"lines1"},"mark":{"type":"line","order":false,"interpolate":"catmull-rom","strokeWidth":1.45},"encoding":{"x":{"field":"x","type":"quantitative","scale":{"domain":[-210,3870],"nice":false,"zero":false},"axis":null},"y":{"field":"y","type":"quantitative","scale":{"domain":[-525,1299],"reverse":true,"nice":false,"zero":false},"axis":null},"detail":{"field":"s"},"color":{"field":"l","type":"nominal","legend":null,"scale":{"domain":["wafer","299.49","301.03","302.57","304.11","305.64","307.18","308.72","310.26","311.80","313.33","314.87"],"range":["#4a4a4a","#5b7fc7","#8fd8e8","#a4d68a","#f7ef7c","#f77d62","#c47cbf","#7cc795","#8fd19c","#aedb9c","#d9cf95","#fcd0a0"]}}}},
{"data":{"name":"labels1"},"mark":{"type":"text","font":"DejaVu Sans Mono","fontSize":12.3,"color":"#5a5a5a","align":"center","baseline":"middle"},"encoding":{"x":{"field":"x","type":"quantitative","scale":{"domain":[-210,3870],"nice":false,"zero":false},"axis":null},"y":{"field":"y","type":"quantitative","scale":{"domain":[-525,1299],"reverse":true,"nice":false,"zero":false},"axis":null},"text":{"field":"t"},"angle":{"field":"a","type":"quantitative","scale":null}}},
{"data":{"name":"lines2"},"mark":{"type":"line","order":false,"interpolate":"catmull-rom","strokeWidth":1.45},"encoding":{"x":{"field":"x","type":"quantitative","scale":{"domain":[-1515,2565],"nice":false,"zero":false},"axis":null},"y":{"field":"y","type":"quantitative","scale":{"domain":[-525,1299],"reverse":true,"nice":false,"zero":false},"axis":null},"detail":{"field":"s"},"color":{"field":"l","type":"nominal","legend":null,"scale":{"domain":["wafer","9.339","9.519","9.698","9.878","1.006","1.024","1.042","1.060","1.078","1.096","1.114"],"range":["#4a4a4a","#5f85cf","#8fd8e8","#98cf6e","#a0cf6c","#f8ec6c","#f8603c","#ee5f9c","#bf7cc0","#6cc08b","#a5d98e","#c05cae"]}}}},
{"data":{"name":"labels2"},"mark":{"type":"text","font":"DejaVu Sans Mono","fontSize":12.3,"color":"#5a5a5a","align":"center","baseline":"middle"},"encoding":{"x":{"field":"x","type":"quantitative","scale":{"domain":[-1515,2565],"nice":false,"zero":false},"axis":null},"y":{"field":"y","type":"quantitative","scale":{"domain":[-525,1299],"reverse":true,"nice":false,"zero":false},"axis":null},"text":{"field":"t"},"angle":{"field":"a","type":"quantitative","scale":null}}},
{"data":{"name":"lines3"},"mark":{"type":"line","order":false,"interpolate":"catmull-rom","strokeWidth":1.45},"encoding":{"x":{"field":"x","type":"quantitative","scale":{"domain":[-2790,1290],"nice":false,"zero":false},"axis":null},"y":{"field":"y","type":"quantitative","scale":{"domain":[-525,1299],"reverse":true,"nice":false,"zero":false},"axis":null},"detail":{"field":"s"},"color":{"field":"l","type":"nominal","legend":null,"scale":{"domain":["wafer","1812.94","1853.57","1894.20","1934.83","1975.47","2016.10","2056.74","2097.37","2138.01","2178.64","2219.27"],"range":["#4a4a4a","#5b7fc7","#8fd8e8","#9ed07d","#f8ec6c","#f8644a","#c47cbf","#6fc78c","#8fd29f","#aed99f","#d6cf96","#fcd199"]}}}},
{"data":{"name":"labels3"},"mark":{"type":"text","font":"DejaVu Sans Mono","fontSize":12.3,"color":"#5a5a5a","align":"center","baseline":"middle"},"encoding":{"x":{"field":"x","type":"quantitative","scale":{"domain":[-2790,1290],"nice":false,"zero":false},"axis":null},"y":{"field":"y","type":"quantitative","scale":{"domain":[-525,1299],"reverse":true,"nice":false,"zero":false},"axis":null},"text":{"field":"t"},"angle":{"field":"a","type":"quantitative","scale":null}}}
]}
